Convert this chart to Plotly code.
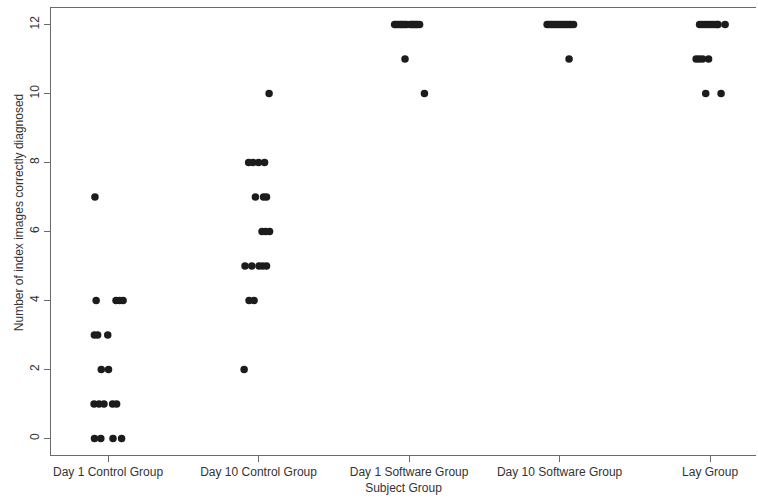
import plotly.graph_objects as go

groups = ["Day 1 Control Group", "Day 10 Control Group", "Day 1 Software Group",
          "Day 10 Software Group", "Lay Group"]

# scores per subject, and the horizontal jitter (in category units)
g1_scores = [7, 4, 4, 4, 4, 3, 3, 3, 2, 2, 1, 1, 1, 1, 1, 0, 0, 0, 0]
g1_jitter = [-0.087, -0.079, 0.053, 0.077, 0.100, -0.091, -0.069, -0.002, -0.045, 0.003,
             -0.093, -0.060, -0.027, 0.030, 0.057, -0.090, -0.048, 0.033, 0.090]

g2_scores = [10, 8, 8, 8, 8, 7, 7, 7, 6, 6, 6, 5, 5, 5, 5, 5, 4, 4, 2]
g2_jitter = [0.070, -0.066, -0.037, 0.000, 0.040, -0.021, 0.033, 0.053, 0.023, 0.047,
             0.073, -0.090, -0.045, 0.003, 0.027, 0.053, -0.063, -0.030, -0.096]

g3_scores = [12, 12, 12, 12, 12, 12, 12, 12, 12, 12, 12, 12, 12, 12, 12, 11, 10]
g3_jitter = [-0.096, -0.086, -0.073, -0.060, -0.050, -0.040, -0.027, -0.017, 0.007, 0.017,
             0.027, 0.037, 0.047, 0.056, 0.070, -0.027, 0.102]

g4_scores = [12, 12, 12, 12, 12, 12, 12, 12, 12, 12, 12, 12, 12, 12, 11]
g4_jitter = [-0.083, -0.070, -0.056, -0.043, -0.030, -0.017, -0.003, 0.010, 0.023, 0.037,
             0.050, 0.063, 0.076, 0.093, 0.063]

g5_scores = [12, 12, 12, 12, 12, 12, 12, 12, 12, 12, 11, 11, 11, 11, 10, 10]
g5_jitter = [-0.070, -0.053, -0.037, -0.020, -0.003, 0.013, 0.030, 0.046, 0.053, 0.100,
             -0.093, -0.073, -0.050, -0.010, -0.029, 0.073]

y_ticks = [0, 2, 4, 6, 8, 10, 12]

all_scores = [g1_scores, g2_scores, g3_scores, g4_scores, g5_scores]
all_jitter = [g1_jitter, g2_jitter, g3_jitter, g4_jitter, g5_jitter]

fig = go.Figure()
for i, (sc, jt) in enumerate(zip(all_scores, all_jitter)):
    fig.add_trace(go.Scatter(
        x=[i + 1 + j for j in jt], y=sc, mode="markers",
        marker=dict(size=7.5, color="#1c1c1c", line=dict(width=0)),
        showlegend=False, hoverinfo="skip"))

axis_col = "#6a6a6a"
font = dict(family="Liberation Sans, Arial, sans-serif", size=12, color="#333333")

fig.update_layout(
    width=758, height=498,
    margin=dict(l=51, r=2, t=8, b=43),
    paper_bgcolor="white", plot_bgcolor="white",
    font=font,
    xaxis=dict(range=[0.621, 5.305], tickvals=[1, 2, 3, 4, 5], ticktext=groups,
               showgrid=False, zeroline=False, showline=True, linecolor=axis_col,
               linewidth=1, mirror=True, ticks="outside", ticklen=6, tickcolor=axis_col,
               title=dict(text="Subject Group", standoff=5, font=font), tickfont=font),
    yaxis=dict(range=[-0.48, 12.48], tickvals=y_ticks, tickangle=-90,
               showgrid=False, zeroline=False, showline=True, linecolor=axis_col,
               linewidth=1, ticks="outside", ticklen=6, tickcolor=axis_col,
               tickfont=font),
    annotations=[dict(text="Number of index images correctly diagnosed", textangle=-90,
                      xref="paper", yref="paper", x=0, y=0.541, xshift=-32,
                      xanchor="center", yanchor="middle", showarrow=False, font=font)],
)

fig.write_html("out.html", config={"displayModeBar": False},
               post_script="document.body.style.margin='0px';")
